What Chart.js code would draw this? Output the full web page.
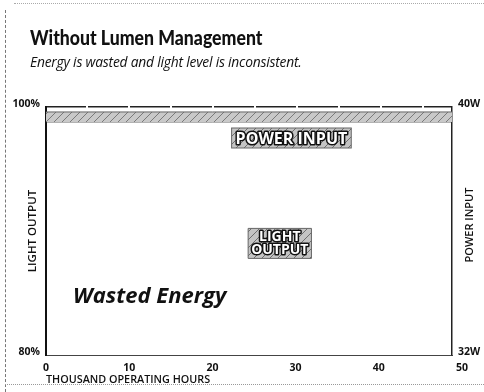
<!DOCTYPE html>
<html>
<head>
<meta charset="utf-8">
<script src="https://cdn.jsdelivr.net/npm/chart.js@4.4.1/dist/chart.umd.min.js"></script>
<style>
  body { margin: 0; background: #fff; }
  #wrap { position: relative; width: 484px; height: 392px; overflow: hidden; font-family: "Open Sans", sans-serif; color: #111; }
  #chart { position: absolute; left: 0; top: 0; }
  h1 { position: absolute; left: 30px; top: 26px; margin: 0; font-family: Lato, sans-serif; font-size: 21px; font-weight: 900; line-height: 1; transform: scaleX(0.84); transform-origin: 0 0; white-space: nowrap; }
  .sub { position: absolute; left: 30px; top: 52px; margin: 0; font-size: 13.8px; font-style: italic; letter-spacing: -0.2px; white-space: nowrap; }
  .edge-top { position: absolute; left: 14px; right: 0; top: 3px; border-top: 1px dotted #aaa; }
  .edge-left { position: absolute; left: 5px; top: 10px; bottom: 0; border-left: 1px dashed #777; }
  .edge-bottom { position: absolute; left: 5px; right: 0; top: 384px; border-top: 1px dotted #999; }
</style>
</head>
<body>
<div id="wrap">
  <canvas id="chart" width="484" height="392"></canvas>
  <div class="edge-top"></div>
  <div class="edge-left"></div>
  <div class="edge-bottom"></div>
  <h1>Without Lumen Management</h1>
  <p class="sub">Energy is wasted and light level is inconsistent.</p>
</div>
<script>
// thousand operating hours
const hours = [0, 10, 20, 30, 40, 50];
// light output band, % of initial
const bandTop = [99.6, 99.6, 99.6, 99.6, 99.6, 99.6];
const bandBottom = [98.8, 98.8, 98.8, 98.8, 98.8, 98.8];

const hourTicks = [0, 10, 20, 30, 40, 50];
const lightTicks = [80, 100];
const powerTicks = [32, 40];

const FONT = '"Open Sans", sans-serif';

const canvas = document.getElementById('chart');
const ctx = canvas.getContext('2d');

// grey diagonal hatch used for the band and the label boxes
function hatch(bg, fg) {
    let c = document.createElement('canvas');
    c.width = 8; c.height = 8;
    let g = c.getContext('2d');
    g.fillStyle = bg;
    g.fillRect(0, 0, 8, 8);
    g.strokeStyle = fg;
    g.lineWidth = 1;
    g.beginPath();
    g.moveTo(0, 8); g.lineTo(8, 0);
    g.moveTo(-4, 4); g.lineTo(4, -4);
    g.moveTo(4, 12); g.lineTo(12, 4);
    g.stroke();
    return ctx.createPattern(c, 'repeat');
}
const bandFill = hatch('#c9c9c9', '#7a7a7a');
const boxFill = hatch('#c4c4c4', '#6e6e6e');

function outlined(text, x, y) {
    ctx.lineJoin = 'round';
    ctx.lineWidth = 3;
    ctx.strokeStyle = '#111';
    ctx.strokeText(text, x, y);
    ctx.fillStyle = '#fff';
    ctx.fillText(text, x, y);
}

const notes = {
    id: 'notes',
    afterDatasetsDraw(chart) {
        const { x, y } = chart.scales;
        const area = chart.chartArea;
        ctx.save();
        ctx.textAlign = 'center';
        ctx.textBaseline = 'middle';

        // POWER INPUT tag
        ctx.font = 'bold 16px ' + FONT;
        let px = x.getPixelForValue(29.5), py = y.getPixelForValue(97.5);
        let w = ctx.measureText('POWER INPUT').width + 8;
        ctx.fillStyle = boxFill;
        ctx.fillRect(px - w / 2, py - 10, w, 20);
        ctx.strokeStyle = '#666';
        ctx.lineWidth = 1;
        ctx.strokeRect(px - w / 2, py - 10, w, 20);
        outlined('POWER INPUT', px, py + 1);

        // LIGHT OUTPUT tag
        ctx.font = 'bold 14px ' + FONT;
        px = x.getPixelForValue(28.1); py = y.getPixelForValue(89.0);
        w = ctx.measureText('OUTPUT').width + 6;
        ctx.fillStyle = boxFill;
        ctx.fillRect(px - w / 2, py - 15, w, 30);
        ctx.strokeStyle = '#666';
        ctx.lineWidth = 1;
        ctx.strokeRect(px - w / 2, py - 15, w, 30);
        outlined('LIGHT', px, py - 6);
        outlined('OUTPUT', px, py + 7);

        // wasted energy caption
        ctx.textAlign = 'left';
        ctx.font = 'italic bold 22px ' + FONT;
        ctx.fillStyle = '#111';
        ctx.fillText('Wasted Energy', x.getPixelForValue(3.25), y.getPixelForValue(84.7));

        // right axis title reads bottom to top like the left one
        ctx.translate(470, (area.top + area.bottom) / 2 - 6);
        ctx.rotate(-Math.PI / 2);
        ctx.textAlign = 'center';
        ctx.font = '600 11px ' + FONT;
        ctx.fillText('POWER INPUT', 0, 0);
        ctx.restore();
    }
};

const tickFont = { family: FONT, size: 10.5, weight: 'bold' };

new Chart(ctx, {
    type: 'line',
    data: {
        datasets: [
            {
                label: 'Light output (upper)',
                data: hours.map((h, i) => ({ x: h, y: bandTop[i] })),
                borderColor: '#666',
                borderWidth: 1,
                pointRadius: 0,
                fill: '+1',
                backgroundColor: bandFill,
                yAxisID: 'y'
            },
            {
                label: 'Light output (lower)',
                data: hours.map((h, i) => ({ x: h, y: bandBottom[i] })),
                borderColor: '#333',
                borderWidth: 1,
                pointRadius: 0,
                fill: false,
                yAxisID: 'y'
            }
        ]
    },
    options: {
        responsive: false,
        animation: false,
        layout: { padding: { top: 107, left: 0, right: 0, bottom: 0 } },
        plugins: {
            legend: { display: false },
            tooltip: { enabled: false }
        },
        scales: {
            x: {
                type: 'linear',
                min: 0,
                max: 48.8,
                afterBuildTicks: s => { s.ticks = hourTicks.map(v => ({ value: v })); },
                afterFit: s => { s.height = 37; },
                grid: { display: false, drawTicks: false },
                border: { color: '#444', width: 1, dash: [5, 2] },
                ticks: { padding: 7, font: tickFont, color: '#111', maxRotation: 0, autoSkip: false },
                title: {
                    display: true,
                    text: 'THOUSAND OPERATING HOURS',
                    align: 'start',
                    color: '#111',
                    font: { family: FONT, size: 10.8, weight: '600' },
                    padding: { top: 0, bottom: 6 }
                }
            },
            y: {
                position: 'left',
                min: 80,
                max: 100,
                afterBuildTicks: s => { s.ticks = lightTicks.map(v => ({ value: v })); },
                afterFit: s => { s.width = 46; },
                grid: { display: false, drawTicks: false },
                border: { color: '#111', width: 2 },
                ticks: { padding: 6, labelOffset: -3, font: tickFont, color: '#111', callback: v => v + '%' },
                title: {
                    display: true,
                    text: 'LIGHT OUTPUT',
                    color: '#111',
                    font: { family: FONT, size: 11.5, weight: '600' },
                    padding: { top: 26, bottom: 0 }
                }
            },
            y2: {
                position: 'right',
                min: 32,
                max: 40,
                afterBuildTicks: s => { s.ticks = powerTicks.map(v => ({ value: v })); },
                afterFit: s => { s.width = 32; },
                grid: {
                    drawTicks: false,
                    lineWidth: 1.5,
                    color: c => (c.tick && c.tick.value === 40) ? '#222' : 'rgba(0,0,0,0)'
                },
                border: { color: '#222', width: 1.5, dash: [40, 2] },
                ticks: { padding: 6, labelOffset: -3, font: tickFont, color: '#111', callback: v => v + 'W' }
            }
        }
    },
    plugins: [notes]
});
</script>
</body>
</html>
